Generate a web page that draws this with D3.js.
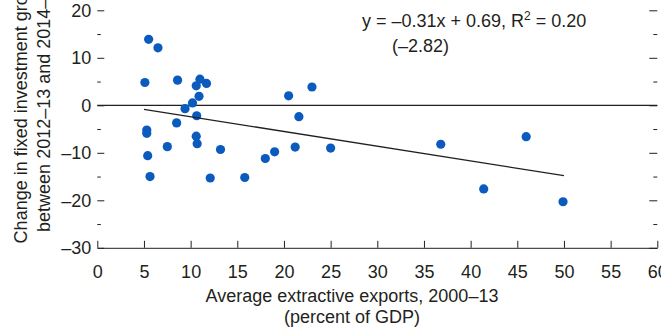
<!DOCTYPE html>
<html>
<head>
<meta charset="utf-8">
<script src="https://cdn.jsdelivr.net/npm/d3@7"></script>
<style>
  body { margin: 0; background: #fff; }
  text { font-family: "Liberation Sans Narrow", "Arial Narrow", sans-serif; fill: #231f20; }
</style>
</head>
<body>
<div id="chart-area"></div>
<script>
// Average extractive exports 2000-13 (% of GDP) and change in investment growth
const exportsShare = [5.5, 6.5, 5.1, 8.6, 11.0, 10.6, 11.7, 10.9, 10.2, 9.4, 10.65,
    8.5, 5.3, 5.3, 10.6, 10.7, 7.5, 5.4, 5.65, 12.1, 20.5, 23.0, 21.6, 13.2,
    19.0, 18.0, 21.2, 25.0, 15.8, 36.8, 45.95, 41.4, 49.9]
const investChange = [13.9, 12.1, 4.8, 5.3, 5.5, 4.1, 4.6, 1.9, 0.5, -0.7, -2.2,
    -3.7, -5.2, -5.9, -6.5, -8.1, -8.7, -10.6, -15.0, -15.3, 2.0, 3.85, -2.4, -9.3,
    -9.8, -11.2, -8.8, -9.0, -15.2, -8.2, -6.6, -17.6, -20.3]

const xTicks = [0, 5, 10, 15, 20, 25, 30, 35, 40, 45, 50, 55, 60]
const yMajor = [-30, -20, -10, 0, 10, 20, 30]
const yMinor = [-25, -15, -5, 5, 15, 25]

// fitted line y = -0.31x + 0.69, drawn over the data range
const fit = { slope: -0.31, intercept: 0.69, from: 5, to: 50 }

const canvas = { width: 661, height: 328 }
const plot = { left: 97.3, right: 657.3, bottom: 247.8, top: -37.2 }

const svg = d3.select('#chart-area')
    .append('svg')
    .attr('width', canvas.width)
    .attr('height', canvas.height)

const x = d3.scaleLinear().domain([0, 60]).range([plot.left, plot.right])
const y = d3.scaleLinear().domain([-30, 30]).range([plot.bottom, plot.top])

const fmt = d => d < 0 ? '\u2013' + Math.abs(d) : d

// left axis: labels, ticks pointing inward
const left = svg.append('g')
    .attr('transform', `translate(${plot.left},0)`)
    .call(d3.axisLeft(y).tickValues(yMajor).tickSize(-7).tickPadding(6).tickFormat(fmt))
left.call(g => g.select('.domain').remove())
left.selectAll('text').style('font-size', '18px').style('font-family', null)

svg.append('g')
    .attr('transform', `translate(${plot.left},0)`)
    .call(d3.axisLeft(y).tickValues(yMinor).tickSize(-3.5).tickFormat(''))
    .call(g => g.select('.domain').remove())

// right axis: ticks only
svg.append('g')
    .attr('transform', `translate(${plot.right},0)`)
    .call(d3.axisRight(y).tickValues(yMajor).tickSize(-8).tickFormat(''))
    .call(g => g.select('.domain').remove())
svg.append('g')
    .attr('transform', `translate(${plot.right},0)`)
    .call(d3.axisRight(y).tickValues(yMinor).tickSize(-4).tickFormat(''))
    .call(g => g.select('.domain').remove())

// bottom axis
const bottom = svg.append('g')
    .attr('transform', `translate(0,${plot.bottom})`)
    .call(d3.axisBottom(x).tickValues(xTicks).tickSize(-7).tickSizeOuter(0).tickPadding(17))
bottom.selectAll('text').style('font-size', '18px').style('font-family', null)

svg.selectAll('.tick line, .domain').attr('stroke', '#231f20')

// zero line
svg.append('line')
    .attr('x1', x(0)).attr('x2', x(60))
    .attr('y1', y(0)).attr('y2', y(0))
    .attr('stroke', '#231f20')
    .attr('stroke-width', 1.3)

// points
svg.selectAll('circle')
    .data(exportsShare)
    .enter()
    .append('circle')
    .attr('cx', d => x(d))
    .attr('cy', (d, i) => y(investChange[i]))
    .attr('r', 4.6)
    .attr('fill', '#0a5bbd')

// regression line
svg.append('line')
    .attr('x1', x(fit.from)).attr('y1', y(fit.slope * fit.from + fit.intercept))
    .attr('x2', x(fit.to)).attr('y2', y(fit.slope * fit.to + fit.intercept))
    .attr('stroke', '#231f20')
    .attr('stroke-width', 1.3)

// equation
const eq = svg.append('text')
    .attr('x', 362).attr('y', 27)
    .style('font-size', '18px')
eq.append('tspan').text('y = \u20130.31x + 0.69, R')
eq.append('tspan').attr('dy', -7).style('font-size', '12px').text('2')
eq.append('tspan').attr('dy', 7).text(' = 0.20')
svg.append('text')
    .attr('x', 392).attr('y', 52)
    .style('font-size', '18px')
    .text('(\u20132.82)')

// axis titles
svg.append('text')
    .attr('x', 352).attr('y', 302)
    .attr('text-anchor', 'middle')
    .style('font-size', '18px')
    .text('Average extractive exports, 2000\u201313')
svg.append('text')
    .attr('x', 352).attr('y', 323)
    .attr('text-anchor', 'middle')
    .style('font-size', '18px')
    .text('(percent of GDP)')

const yTitle = svg.append('text')
    .attr('transform', `translate(27,${y(0)}) rotate(-90)`)
    .attr('text-anchor', 'middle')
    .style('font-size', '18px')
yTitle.append('tspan').attr('x', 0).attr('y', 0).text('Change in fixed investment growth')
yTitle.append('tspan').attr('x', 0).attr('y', 23).text('between 2012\u201313 and 2014\u201315')
</script>
</body>
</html>
